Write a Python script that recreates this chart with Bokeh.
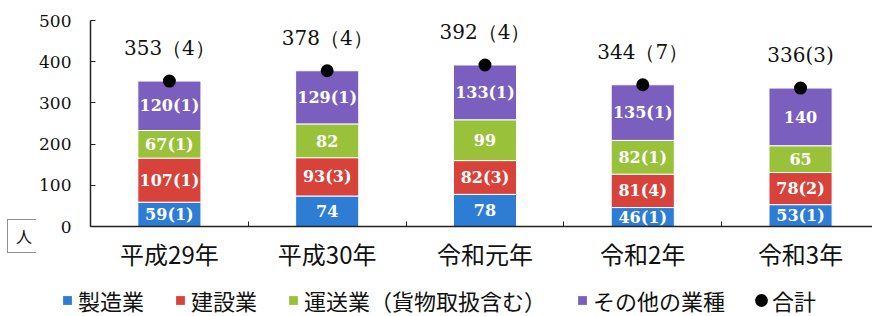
from bokeh.plotting import figure
from bokeh.models import Range1d, FixedTicker, Legend, LegendItem, Spacer
from bokeh.layouts import row, column
from bokeh.core.properties import value
from bokeh.embed import file_html
from bokeh.resources import INLINE

# ---- data ----
years = ["平成29年", "平成30年", "令和元年", "令和2年", "令和3年"]
manufacturing = [59, 74, 78, 46, 53]
construction = [107, 93, 82, 81, 78]
transport = [67, 82, 99, 82, 65]
other = [120, 129, 133, 135, 140]
totals = [353, 378, 392, 344, 336]

manufacturing_labels = ["59(1)", "74", "78", "46(1)", "53(1)"]
construction_labels = ["107(1)", "93(3)", "82(3)", "81(4)", "78(2)"]
transport_labels = ["67(1)", "82", "99", "82(1)", "65"]
other_labels = ["120(1)", "129(1)", "133(1)", "135(1)", "140"]
total_labels = ["353（4）", "378（4）", "392（4）", "344（7）", "336(3)"]

series_names = ["製造業", "建設業", "運送業（貨物取扱含む）", "その他の業種"]
total_name = "合計"
y_ticks = [0, 100, 200, 300, 400, 500]
unit_label = "人"

# ---- style ----
colors = ["#2d7dd5", "#d7433a", "#99c23a", "#7a5fbf"]
SERIF = "DejaVu Serif"
SANS = "Noto Sans CJK JP"
INK = "#111111"

xs = list(range(len(years)))

# ---------------- main chart ----------------
p = figure(width=836, height=278, x_range=Range1d(-0.5, 4.456), y_range=Range1d(0, 500),
           output_backend="svg", toolbar_location=None,
           min_border_left=53, min_border_right=0, min_border_top=20, min_border_bottom=52)
p.outline_line_color = None
p.xgrid.grid_line_color = None
p.ygrid.grid_line_color = None

series = [manufacturing, construction, transport, other]
series_labels = [manufacturing_labels, construction_labels, transport_labels, other_labels]
bottoms = [0] * len(xs)
for vals, labs, col in zip(series, series_labels, colors):
    tops = [b + v for b, v in zip(bottoms, vals)]
    mids = [(b + t) / 2 for b, t in zip(bottoms, tops)]
    p.vbar(x=xs, bottom=bottoms, top=tops, width=0.4, fill_color=col,
           line_color="white", line_width=1)
    p.text(x=xs, y=mids, text=labs, text_align="center", text_baseline="middle",
           text_color="white", text_font=value(SERIF), text_font_style="bold",
           text_font_size="16px")
    bottoms = tops

p.scatter(x=xs, y=totals, size=9, fill_color="black", line_color="black", line_width=4)
p.text(x=xs, y=totals, text=total_labels, y_offset=-33, text_align="center",
       text_baseline="middle", text_color=INK, text_font=value(SERIF),
       text_font_size="20px")

p.yaxis.ticker = FixedTicker(ticks=y_ticks)
p.yaxis.major_tick_in = 5
p.yaxis.major_tick_out = 0
p.yaxis.minor_tick_line_color = None
p.yaxis.axis_line_width = 1.5
p.yaxis.axis_line_color = "#222222"
p.yaxis.major_tick_line_color = "#222222"
p.yaxis.major_label_text_font = SERIF
p.yaxis.major_label_text_font_size = "17px"
p.yaxis.major_label_text_color = INK
p.yaxis.major_label_standoff = 19

p.xaxis.ticker = FixedTicker(ticks=xs, minor_ticks=[i + 0.5 for i in xs[:-1]])
p.xaxis.major_label_overrides = {i: y for i, y in zip(xs, years)}
p.xaxis.major_tick_in = 0
p.xaxis.major_tick_out = 0
p.xaxis.minor_tick_in = 5
p.xaxis.minor_tick_out = 0
p.xaxis.minor_tick_line_color = "#222222"
p.xaxis.axis_line_width = 1.5
p.xaxis.axis_line_color = "#222222"
p.xaxis.major_label_text_font = SANS
p.xaxis.major_label_text_font_size = "24px"
p.xaxis.major_label_text_color = INK
p.xaxis.major_label_standoff = 9


def blank_fig(w, h):
    f = figure(width=w, height=h, x_range=Range1d(0, 1), y_range=Range1d(0, 1),
               output_backend="svg", toolbar_location=None,
               x_axis_location=None, y_axis_location=None,
               min_border=0, min_border_left=0, min_border_right=0,
               min_border_top=0, min_border_bottom=0)
    f.outline_line_color = None
    f.xgrid.grid_line_color = None
    f.ygrid.grid_line_color = None
    return f

# ---------------- unit box (left strip) ----------------
u = blank_fig(36, 48)
u_dummy = u.scatter(x=[-1], y=[-1], size=0, fill_alpha=0, line_alpha=0)
u.add_layout(Legend(items=[LegendItem(label=unit_label, renderers=[u_dummy])],
                    location="left", orientation="horizontal",
                    glyph_width=4, glyph_height=16, label_height=16, label_standoff=0,
                    padding=4, margin=7, border_line_color="#222222",
                    border_line_width=1.2, background_fill_color="white",
                    background_fill_alpha=1, label_text_font=SANS,
                    label_text_font_size="16px", label_text_color=INK))

# ---------------- legend strip ----------------
lg = blank_fig(872, 38)
leg_renderers = [lg.scatter(x=[-1], y=[-1], marker="square", fill_color=c, line_color=None)
                 for c in colors]
leg_renderers.append(lg.scatter(x=[-1], y=[-1], size=9, fill_color="black",
                                line_color="black", line_width=4))
lg.add_layout(Legend(items=[LegendItem(label=n, renderers=[r]) for n, r in
                            zip(series_names + [total_name], leg_renderers)],
                     location=(56, 0), orientation="horizontal",
                     glyph_width=22, glyph_height=22, label_height=22,
                     label_standoff=-3, spacing=25, padding=0, margin=0,
                     border_line_color=None, background_fill_alpha=0,
                     label_text_font=SANS, label_text_font_size="22px",
                     label_text_color=INK))

layout = column(row(column(Spacer(width=36, height=212), u), p), lg)
open("out.html", "w").write(file_html(layout, INLINE))
